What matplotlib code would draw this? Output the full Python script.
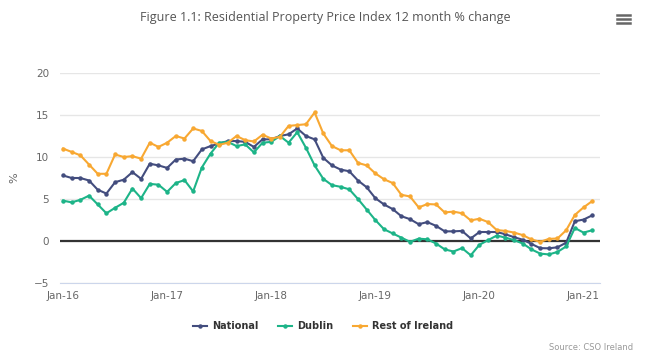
import numpy as np
import matplotlib
matplotlib.use("Agg")
import matplotlib.pyplot as plt
from matplotlib.lines import Line2D

# monthly 12 month % change, Jan-16 .. Feb-21
months = [f"{m}-{y}" for y in range(16, 22) for m in
          ["Jan", "Feb", "Mar", "Apr", "May", "Jun", "Jul", "Aug", "Sep", "Oct", "Nov", "Dec"]][:62]

national = [7.8, 7.5, 7.5, 7.2, 6.1, 5.65, 7.0, 7.3, 8.2, 7.4, 9.2, 9.0,
            8.7, 9.7, 9.8, 9.5, 10.9, 11.3, 11.6, 11.9, 11.9, 11.8, 11.2, 12.1,
            12.1, 12.5, 12.7, 13.4, 12.5, 12.1, 9.9, 9.0, 8.5, 8.3, 7.2, 6.4,
            5.1, 4.35, 3.8, 2.95, 2.6, 2.0, 2.25, 1.8, 1.15, 1.15, 1.2, 0.3,
            1.07, 1.07, 1.07, 0.8, 0.45, 0.15, -0.35, -0.85, -0.87, -0.75, -0.2, 2.35,
            2.55, 3.05]
dublin = [4.8, 4.6, 4.9, 5.4, 4.35, 3.3, 3.95, 4.55, 6.25, 5.1, 6.8, 6.7,
          5.85, 6.9, 7.25, 5.9, 8.75, 10.4, 11.7, 11.8, 11.3, 11.5, 10.55, 11.7,
          11.8, 12.5, 11.7, 12.95, 11.1, 9.0, 7.4, 6.65, 6.45, 6.15, 5.0, 3.75,
          2.5, 1.4, 0.9, 0.4, -0.1, 0.28, 0.2, -0.3, -1.0, -1.25, -0.85, -1.7,
          -0.45, 0.1, 0.65, 0.4, 0.1, -0.3, -1.0, -1.5, -1.6, -1.3, -0.65, 1.55,
          1.0, 1.28]
rest_of_ireland = [11.0, 10.6, 10.2, 9.1, 8.0, 8.0, 10.3, 10.0, 10.1, 9.8, 11.7, 11.2,
                   11.7, 12.5, 12.2, 13.4, 13.1, 11.9, 11.45, 11.7, 12.5, 12.0, 11.85, 12.65,
                   12.2, 12.4, 13.7, 13.8, 13.9, 15.3, 12.8, 11.3, 10.8, 10.8, 9.3, 9.0,
                   8.05, 7.35, 6.9, 5.5, 5.3, 4.0, 4.4, 4.35, 3.4, 3.5, 3.3, 2.45,
                   2.65, 2.25, 1.3, 1.2, 1.0, 0.7, 0.18, -0.1, 0.25, 0.3, 1.28, 3.1,
                   4.0, 4.75]

yticks = [-5, 0, 5, 10, 15, 20]
xlabel_every = 12

fig = plt.figure(figsize=(6.5, 3.56), dpi=100)
ax = fig.add_axes([60 / 650, (356 - 283) / 356, 540 / 650, 210 / 356])

x = np.arange(len(months))
series = [("National", national, "#434d7e"),
          ("Dublin", dublin, "#1db488"),
          ("Rest of Ireland", rest_of_ireland, "#f8a832")]
for name, vals, col in series:
    ax.plot(x, vals, color=col, lw=1.5, marker="o", ms=2.2, zorder=3, label=name)

ax.axhline(0, color="#333333", lw=1.6, zorder=2)
ax.set_ylim(-5, 20)
ax.set_yticks(yticks)
ax.set_xlim(-0.35, 61.9)
ax.set_xticks(x[::xlabel_every])
ax.set_xticklabels(months[::xlabel_every])
ax.grid(axis="y", color="#e6e6e6", lw=1)
ax.set_axisbelow(True)
for s in ["top", "right", "left"]:
    ax.spines[s].set_visible(False)
ax.spines["bottom"].set_color("#ccd6eb")
ax.tick_params(axis="both", length=0, labelsize=7.5, colors="#666666")
ax.tick_params(axis="x", pad=6)
ax.tick_params(axis="y", pad=8)
ax.set_ylabel("%", fontsize=8, color="#666666", labelpad=10)

fig.text(325 / 650, 1 - 18 / 356, "Figure 1.1: Residential Property Price Index 12 month % change",
         ha="center", va="center", fontsize=9, color="#555555", family="Open Sans")

# export menu icon
for dy in (15, 19, 23):
    fig.add_artist(Line2D([617 / 650, 630 / 650], [1 - dy / 356] * 2, color="#666666", lw=1.8))

handles = [Line2D([0], [0], color=c, lw=1.5, marker="o", ms=2.2) for _, _, c in series]
fig.legend(handles, [s[0] for s in series], loc="center", bbox_to_anchor=(323 / 650, 1 - 326 / 356),
           ncol=3, frameon=False, handlelength=1.5, handletextpad=0.5, columnspacing=2.0,
           prop={"weight": "bold", "size": 7})
for t in fig.legends[0].get_texts():
    t.set_color("#333333")

fig.text(633 / 650, 1 - 347 / 356, "Source: CSO Ireland", ha="right", va="center",
         fontsize=6, color="#999999")

fig.savefig("out.png", dpi=100)
